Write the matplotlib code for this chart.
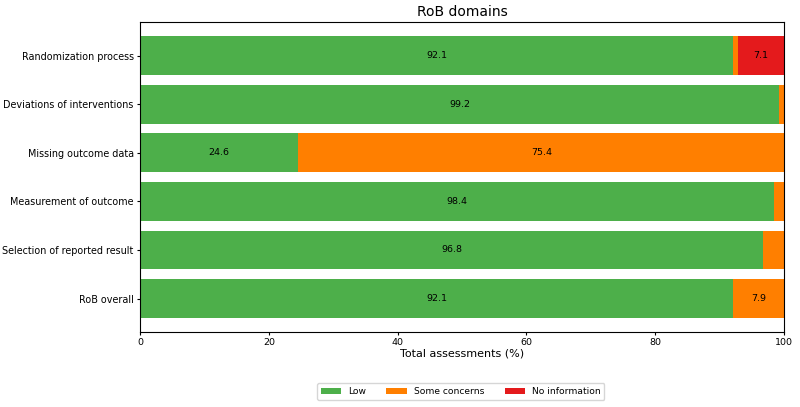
import matplotlib.pyplot as plt
import numpy as np

# RoB domains, top to bottom
domains = ['Randomization process', 'Deviations of interventions', 'Missing outcome data',
           'Measurement of outcome', 'Selection of reported result', 'RoB overall']
low = [92.1, 99.2, 24.6, 98.4, 96.8, 92.1]
some = [0.8, 0.8, 75.4, 1.6, 3.2, 7.9]
noinfo = [7.1, 0.0, 0.0, 0.0, 0.0, 0.0]

colors = ['#4daf4a', '#ff7f00', '#e41a1c']
names = ['Low', 'Some concerns', 'No information']

fig, ax = plt.subplots(figsize=(8, 4.07), dpi=100)
fig.subplots_adjust(left=0.175, right=0.98, top=0.946, bottom=0.184)

y = np.arange(len(domains))[::-1]
left = np.zeros(len(domains))
for vals, c, n in zip([low, some, noinfo], colors, names):
    vals = np.array(vals)
    ax.barh(y, vals, left=left, height=0.8, color=c, label=n)
    # nur breite Segmente beschriften
    for yi, l, v in zip(y, left, vals):
        if v >= 5:
            ax.text(l + v / 2, yi, f'{v:.1f}', ha='center', va='center', fontsize=6.8)
    left += vals

ax.set_yticks(y)
ax.set_yticklabels(domains, fontsize=6.9)
ax.tick_params(axis='y', length=2.5, pad=2)
ax.tick_params(axis='x', labelsize=6.8, length=2.5, pad=2)
ax.set_xlim(0, 100)
ax.set_xlabel('Total assessments (%)', fontsize=8, labelpad=1)
ax.set_title('RoB domains', fontsize=10, pad=4)

fig.legend(loc='center', ncol=3, fontsize=6.6, bbox_to_anchor=(0.576, 0.038),
           handlelength=2.2, handleheight=0.6, columnspacing=2.2)

plt.savefig('out.png')
